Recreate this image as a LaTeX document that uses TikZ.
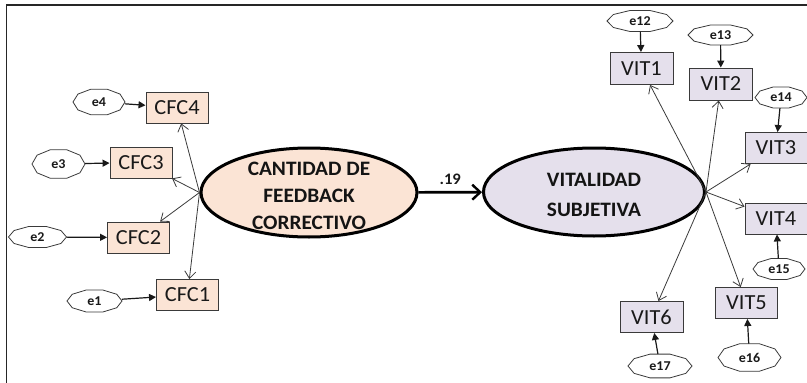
\documentclass[tikz,border=0pt]{standalone}
\usepackage{fontspec}
\setmainfont{Carlito}[FakeStretch=1.04]
\usetikzlibrary{arrows.meta,shapes.geometric}

\definecolor{peach}{HTML}{FBE4D5}
\definecolor{lilac}{HTML}{E5E0EC}
\definecolor{edge}{HTML}{3A3A3A}

\tikzset{
  latent/.style={ellipse, draw=black, line width=3pt, inner sep=0pt},
  latenttext/.style={align=center, inner sep=0pt, text=black!92},
  indbox/.style={rectangle, draw=edge, line width=0.9pt, inner sep=0pt,
    minimum width=62pt, minimum height=31pt, font=\fontsize{21.5}{24}\selectfont, text=black!90},
  errlabel/.style={ellipse, inner sep=0pt, font=\bfseries\fontsize{13.5}{15}\selectfont, text=black!90},
  errline/.style={draw=edge, line width=0.8pt},
  loading/.style={draw=edge, line width=0.8pt, -{Straight Barb[length=7pt,width=11pt]}},
  errarrow/.style={draw=black!90, line width=1.2pt, -{Triangle[length=7pt,width=7pt]}},
  pathline/.style={draw=black, line width=2.6pt, -{Straight Barb[length=8pt,width=15pt,line width=2.4pt]}},
}

% error term: decagon outline around a named node
\newcommand\errterm[5]{%
  \node[errlabel, minimum width=#3*2pt, minimum height=#4*1.9pt] (#1) at #2 {#5};
  \draw[errline, shift={(#1.center)}] (0:#3 and #4)
    \foreach \ang in {36,72,...,324} { -- (\ang:#3 and #4) } -- cycle;
}

\begin{document}
\begin{tikzpicture}[x=1pt,y=-1pt]
\useasboundingbox (0,0) rectangle (807,383);

% frame
\draw[line width=1.6pt, black!85] (6.5,383) -- (6.5,5) -- (807,5);

% latent variables
\node[latent, fill=peach, minimum width=216pt, minimum height=89pt] (F) at (309,192.5) {};
\node[latenttext, font=\bfseries\fontsize{20.5}{27}\selectfont] (Ftxt) at (309,195.5)
  {CANTIDAD DE\\FEEDBACK\\CORRECTIVO};
\node[latent, fill=lilac, minimum width=221pt, minimum height=88pt] (V) at (594,192) {};
\node[latenttext, font=\bfseries\fontsize{20.5}{29.5}\selectfont] (Vtxt) at (594,195)
  {VITALIDAD\\SUBJETIVA};

\draw[pathline] (F) -- (V) node[midway, above=3pt, font=\bfseries\fontsize{16}{18}\selectfont, text=black!90] (b) {.19};

% indicators of feedback
\node[indbox, fill=peach] (CFC4) at (177,107.5) {CFC4};
\node[indbox, fill=peach] (CFC3) at (141,162.5) {CFC3};
\node[indbox, fill=peach] (CFC2) at (138.5,237.5) {CFC2};
\node[indbox, fill=peach] (CFC1) at (187.5,295) {CFC1};

% indicators of vitality
\node[indbox, fill=lilac, minimum width=63pt, minimum height=32pt] (VIT1) at (641.5,68.5) {VIT1};
\node[indbox, fill=lilac, minimum width=63pt, minimum height=32pt] (VIT2) at (721,84) {VIT2};
\node[indbox, fill=lilac, minimum width=62pt, minimum height=31pt] (VIT3) at (776,148) {VIT3};
\node[indbox, fill=lilac, minimum width=62pt, minimum height=31pt] (VIT4) at (776,218.5) {VIT4};
\node[indbox, fill=lilac, minimum width=62pt, minimum height=31pt] (VIT5) at (746.5,303) {VIT5};
\node[indbox, fill=lilac, minimum width=63pt, minimum height=31pt] (VIT6) at (651.5,317) {VIT6};

% error terms
\errterm{e4}{(99,102)}{26}{13.5}{e4}
\errterm{e3}{(58.5,164)}{26.5}{15}{e3}
\errterm{e2}{(37.5,237)}{29}{11}{e2}
\errterm{e1}{(94.5,301)}{27.5}{11.5}{e1}
\errterm{e12}{(640,21)}{33}{11}{e12}
\errterm{e13}{(720.5,35)}{32.5}{10.5}{e13}
\errterm{e14}{(781,97.5)}{26}{11}{e14}
\errterm{e15}{(779,269)}{26}{11}{e15}
\errterm{e16}{(749.5,357.5)}{31.5}{14.5}{e16}
\errterm{e17}{(660,366)}{32}{12.5}{e17}

% loadings
\foreach \b in {CFC1,CFC2,CFC3,CFC4} \draw[loading] (F.west) -- (\b);
\foreach \b in {VIT1,VIT2,VIT3,VIT4,VIT5,VIT6} \draw[loading] (V.east) -- (\b);

% error arrows
\draw[errarrow] (e4) -- (CFC4);
\draw[errarrow] (e3) -- (CFC3);
\draw[errarrow] (e2) -- (CFC2);
\draw[errarrow] (e1) -- (CFC1);
\draw[errarrow] (e12) -- (VIT1);
\draw[errarrow] (e13) -- (VIT2);
\draw[errarrow] (e14) -- (VIT3);
\draw[errarrow] (e15) -- (VIT4);
\draw[errarrow] (e16) -- (VIT5);
\draw[errarrow] (e17) -- (VIT6);
\end{tikzpicture}
\end{document}
